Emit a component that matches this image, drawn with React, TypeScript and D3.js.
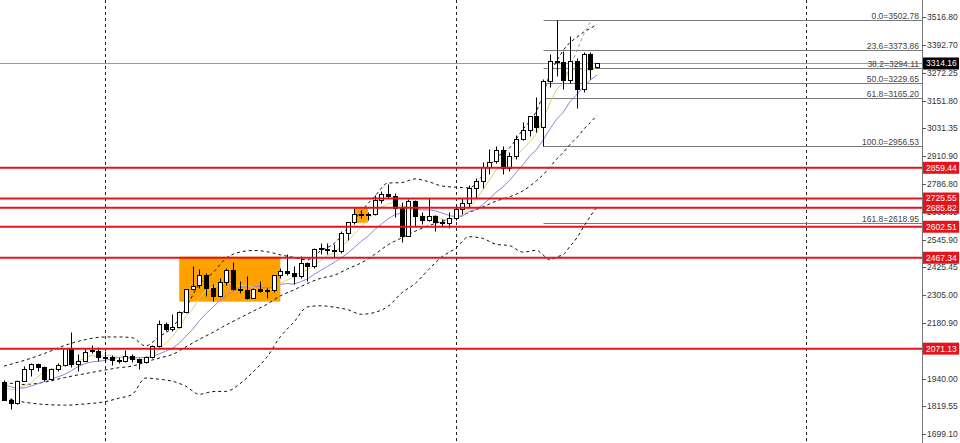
import { useEffect, useRef } from "react";
import * as d3 from "d3";

// weekly candles, oldest first
const opens = [
  1926, 1848, 1834, 1932, 1981, 2006, 1993, 1941, 1981, 2002, 2072, 2004, 2019, 2064, 2062, 2036, 2035, 2022, 2018, 2039,
  2024, 2013, 2035, 2083, 2179, 2155, 2165, 2233, 2329, 2350, 2392, 2337, 2301, 2360, 2415, 2333, 2327, 2293, 2333, 2321,
  2326, 2391, 2411, 2400, 2387, 2443, 2431, 2510, 2506, 2500, 2497, 2577, 2622, 2658, 2653, 2657, 2721, 2747, 2737, 2685,
  2563, 2716, 2650, 2633, 2648, 2622, 2621, 2640, 2680, 2705, 2770, 2800, 2861, 2890, 2936, 2858, 2910, 2984, 3023, 3084,
  3037, 3237, 3327, 3319, 3241, 3325, 3203, 3357, 3300,
];
const highs = [
  1936, 1856, 1936, 1997, 2009, 2010, 1995, 1988, 2008, 2075, 2145, 2047, 2070, 2088, 2078, 2062, 2043, 2036, 2065, 2048,
  2031, 2041, 2088, 2195, 2189, 2222, 2236, 2331, 2431, 2417, 2400, 2355, 2378, 2422, 2450, 2364, 2388, 2335, 2368, 2335,
  2393, 2424, 2483, 2433, 2477, 2450, 2509, 2531, 2530, 2529, 2586, 2625, 2685, 2670, 2668, 2740, 2758, 2790, 2750, 2710,
  2722, 2721, 2666, 2726, 2652, 2638, 2665, 2697, 2726, 2785, 2817, 2886, 2942, 2955, 2956, 2930, 3004, 3057, 3086, 3167,
  3245, 3357, 3502.78, 3367, 3435, 3340, 3366, 3366, 3318,
];
const lows = [
  1846, 1810, 1832, 1930, 1953, 1972, 1931, 1935, 1975, 1995, 1993, 1973, 2016, 2052, 2016, 2013, 2002, 2010, 2012, 2015,
  1984, 2010, 2030, 2080, 2146, 2146, 2162, 2228, 2325, 2336, 2300, 2277, 2298, 2350, 2325, 2315, 2287, 2290, 2316, 2293,
  2318, 2381, 2393, 2353, 2379, 2364, 2424, 2485, 2485, 2472, 2490, 2546, 2615, 2642, 2630, 2655, 2708, 2730, 2643, 2536,
  2563, 2605, 2613, 2627, 2583, 2605, 2597, 2634, 2656, 2690, 2730, 2772, 2833, 2880, 2832, 2845, 2900, 2982, 3000, 3015,
  2956.53, 3210, 3260, 3202, 3230, 3121, 3189, 3245, 3296,
];
const closes = [
  1848, 1834, 1932, 1981, 2006, 1993, 1941, 1981, 2002, 2072, 2004, 2019, 2056, 2060, 2035, 2033, 2021, 2018, 2038, 2024,
  2013, 2036, 2083, 2179, 2156, 2165, 2233, 2329, 2344, 2392, 2337, 2301, 2360, 2415, 2333, 2327, 2293, 2333, 2321, 2326,
  2391, 2411, 2400, 2387, 2443, 2431, 2507, 2506, 2500, 2497, 2577, 2622, 2658, 2653, 2657, 2721, 2747, 2737, 2685, 2563,
  2716, 2650, 2633, 2648, 2622, 2621, 2640, 2680, 2705, 2770, 2800, 2861, 2883, 2936, 2858, 2910, 2984, 3023, 3084, 3037,
  3237, 3327, 3319, 3241, 3325, 3203, 3357, 3289, 3314.16,
];

// indicator lines
const fastMa = [
  1905, 1892, 1895, 1910, 1920, 1949, 1971, 1980, 1985, 1998, 2000, 2016, 2031, 2042, 2035, 2041, 2041, 2033, 2029, 2027,
  2023, 2026, 2039, 2067, 2093, 2124, 2163, 2212, 2245, 2293, 2327, 2341, 2347, 2361, 2349, 2347, 2346, 2340, 2321, 2320,
  2333, 2356, 2370, 2383, 2406, 2414, 2434, 2455, 2477, 2488, 2517, 2540, 2571, 2601, 2633, 2662, 2687, 2703, 2709, 2691,
  2690, 2670, 2649, 2642, 2654, 2635, 2633, 2642, 2654, 2683, 2719, 2763, 2804, 2850, 2868, 2890, 2914, 2942, 2972, 3008,
  3073, 3142, 3201, 3232, 3290, 3283, 3289, 3283, 3298,
];
const slowMa = [
  1915, 1905, 1898, 1900, 1908, 1918, 1928, 1938, 1948, 1959, 1975, 1993, 2006, 2013, 2016, 2020, 2028, 2032, 2036, 2031,
  2032, 2033, 2036, 2048, 2060, 2073, 2095, 2126, 2156, 2193, 2225, 2252, 2280, 2303, 2321, 2337, 2343, 2344, 2341, 2335,
  2340, 2351, 2355, 2352, 2363, 2374, 2395, 2412, 2430, 2447, 2466, 2487, 2513, 2539, 2561, 2590, 2614, 2637, 2655, 2662,
  2676, 2679, 2676, 2676, 2672, 2662, 2652, 2646, 2648, 2669, 2677, 2698, 2723, 2752, 2775, 2804, 2839, 2873, 2911, 2938,
  2981, 3028, 3072, 3102, 3149, 3178, 3215, 3242, 3264,
];
const bandIndex = [
  0, 3, 6, 9, 12, 15, 17, 19, 21, 23, 25, 27, 29, 31, 33, 35, 37, 39, 41, 43, 45, 47, 49, 51, 53, 55, 57, 59, 61, 63,
  65, 67, 69, 71, 73, 75, 77, 79, 80, 81, 82, 83, 84, 85, 86, 87, 88,
];
const bandUpper = [
  1995, 2020, 2050, 2085, 2110, 2122, 2122, 2119, 2083, 2123, 2164, 2251, 2352, 2402, 2466, 2492, 2499, 2494, 2480, 2469,
  2458, 2498, 2530, 2597, 2670, 2735, 2793, 2795, 2811, 2799, 2780, 2775, 2772, 2825, 2902, 2946, 3027, 3107, 3179, 3268,
  3324, 3372, 3406, 3428, 3451, 3467, 3486,
];
const bandMiddle = [
  1925, 1915, 1925, 1945, 1962, 1978, 1988, 1995, 2013, 2030, 2046, 2079, 2112, 2142, 2175, 2205, 2235, 2264, 2301, 2327,
  2355, 2378, 2391, 2419, 2445, 2482, 2524, 2554, 2583, 2607, 2626, 2641, 2665, 2688, 2714, 2733, 2759, 2803, 2829, 2863,
  2897, 2927, 2962, 2991, 3027, 3057, 3088,
];
const bandLower = [
  1858, 1838, 1828, 1825, 1830, 1840, 1855, 1871, 1943, 1938, 1929, 1907, 1872, 1884, 1885, 1918, 1971, 2034, 2123, 2186,
  2253, 2258, 2252, 2241, 2221, 2229, 2256, 2314, 2355, 2416, 2472, 2508, 2559, 2552, 2526, 2520, 2492, 2500, 2479, 2458,
  2471, 2482, 2518, 2554, 2603, 2648, 2690,
];
const shortBandIndex = [83, 84, 85, 86, 87];
const shortBand = [3245, 3300, 3370, 3440, 3495];

const priceTicks = [
  3516.8, 3392.7, 3272.25, 3151.8, 3031.35, 2910.9, 2786.8, 2666.35, 2545.9, 2425.45, 2305.0, 2180.9, 2060.45, 1940.0,
  1819.55, 1699.1,
];
const levels = [2859.44, 2725.55, 2685.82, 2602.51, 2467.34, 2071.13];
const fibNames = ["0.0", "23.6", "38.2", "50.0", "61.8", "100.0", "161.8"];
const fibPrices = [3502.78, 3373.86, 3294.11, 3229.65, 3165.2, 2956.53, 2618.95];
const fibFrom = 80;
const zoneFrom = [26, 52];
const zoneTo = [41, 54];
const zoneTop = [2472, 2686];
const zoneBottom = [2276, 2620];
const yearLines = [15, 67, 119];
const lastPrice = 3314.16;

export default function App() {
  const width = 960;
  const height = 443;
  const axisX = 922;
  const ref = useRef(null);

  useEffect(() => {
    ref.current.innerHTML = "";
    const svg = d3.select(ref.current);
    const font = "'Liberation Sans', Arial, sans-serif";

    const x = d3.scaleLinear().domain([0, 119]).range([4, 806]);
    const y = d3.scaleLinear().domain([1699.1, 3516.8]).range([434, 17]);
    const px = (i) => Math.round(x(i)) + 0.5;
    const py = (v) => Math.round(y(v)) + 0.5;

    svg.append("rect").attr("width", width).attr("height", height).attr("fill", "#fff");

    // orange zones
    svg
      .selectAll("rect.zone")
      .data(zoneFrom)
      .join("rect")
      .attr("class", "zone")
      .attr("x", (d) => x(d))
      .attr("width", (d, i) => x(zoneTo[i]) - x(d))
      .attr("y", (d, i) => y(zoneTop[i]))
      .attr("height", (d, i) => y(zoneBottom[i]) - y(zoneTop[i]))
      .attr("fill", "#ffa200");

    // yearly grid
    svg
      .selectAll("line.grid")
      .data(yearLines)
      .join("line")
      .attr("x1", (d) => px(d))
      .attr("x2", (d) => px(d))
      .attr("y1", 0)
      .attr("y2", height)
      .attr("stroke", "#222")
      .attr("stroke-dasharray", "3,3");

    // current price line
    svg
      .append("line")
      .attr("x1", 0)
      .attr("x2", axisX)
      .attr("y1", py(lastPrice))
      .attr("y2", py(lastPrice))
      .attr("stroke", "#9a9a9a");

    // fibonacci levels
    svg
      .selectAll("line.fib")
      .data(fibPrices)
      .join("line")
      .attr("x1", px(fibFrom))
      .attr("x2", axisX)
      .attr("y1", (d) => py(d))
      .attr("y2", (d) => py(d))
      .attr("stroke", "#7a7a7a");

    // bollinger bands
    const band = d3
      .line()
      .x((d) => x(d[0]))
      .y((d) => y(d[1]))
      .curve(d3.curveMonotoneX);
    [bandUpper, bandMiddle, bandLower].forEach((vals) => {
      svg
        .append("path")
        .attr("d", band(bandIndex.map((d, i) => [d, vals[i]])))
        .attr("fill", "none")
        .attr("stroke", "#111")
        .attr("stroke-dasharray", "3,3");
    });
    svg
      .append("path")
      .attr("d", band(shortBandIndex.map((d, i) => [d, shortBand[i]])))
      .attr("fill", "none")
      .attr("stroke", "#c98a8a")
      .attr("stroke-dasharray", "3,3");

    // moving averages
    const ma = d3
      .line()
      .x((d, i) => x(i))
      .y((d) => y(d));
    svg.append("path").attr("d", ma(slowMa)).attr("fill", "none").attr("stroke", "#9a80d8");
    svg.append("path").attr("d", ma(fastMa)).attr("fill", "none").attr("stroke", "#e3cf6e");

    // candles
    const idx = d3.range(closes.length);
    svg
      .selectAll("line.wick")
      .data(idx)
      .join("line")
      .attr("x1", (i) => px(i))
      .attr("x2", (i) => px(i))
      .attr("y1", (i) => py(highs[i]))
      .attr("y2", (i) => py(lows[i]))
      .attr("stroke", "#000");
    svg
      .selectAll("rect.body")
      .data(idx)
      .join("rect")
      .attr("x", (i) => px(i) - 2)
      .attr("width", 4)
      .attr("y", (i) => py(Math.max(opens[i], closes[i])))
      .attr("height", (i) => Math.max(1, py(Math.min(opens[i], closes[i])) - py(Math.max(opens[i], closes[i]))))
      .attr("fill", (i) => (closes[i] >= opens[i] ? "#fff" : "#000"))
      .attr("stroke", "#000");

    // horizontal levels
    svg
      .selectAll("line.level")
      .data(levels)
      .join("line")
      .attr("x1", 0)
      .attr("x2", axisX)
      .attr("y1", (d) => y(d))
      .attr("y2", (d) => y(d))
      .attr("stroke", "#e3141c")
      .attr("stroke-width", 2);

    // fib labels
    svg
      .selectAll("text.fib")
      .data(fibPrices)
      .join("text")
      .attr("x", axisX - 3)
      .attr("y", (d) => py(d) - 2)
      .attr("text-anchor", "end")
      .attr("font-family", font)
      .attr("font-size", 8.5)
      .attr("fill", "#444")
      .text((d, i) => `${fibNames[i]}=${d.toFixed(2)}`);

    // right axis
    svg
      .append("line")
      .attr("x1", axisX + 0.5)
      .attr("x2", axisX + 0.5)
      .attr("y1", 0)
      .attr("y2", height)
      .attr("stroke", "#777");
    const axis = svg.append("g");
    axis
      .selectAll("line")
      .data(priceTicks)
      .join("line")
      .attr("x1", axisX)
      .attr("x2", axisX + 4)
      .attr("y1", (d) => py(d))
      .attr("y2", (d) => py(d))
      .attr("stroke", "#555");
    axis
      .selectAll("text")
      .data(priceTicks)
      .join("text")
      .attr("x", axisX + 5)
      .attr("y", (d) => y(d))
      .attr("dy", "0.35em")
      .attr("font-family", font)
      .attr("font-size", 8.5)
      .attr("fill", "#333")
      .text((d) => d.toFixed(2));

    // price tags
    const tags = levels.map((v) => ({ v, fill: "#e3141c" })).concat([{ v: lastPrice, fill: "#000" }]);
    const tag = svg.selectAll("g.tag").data(tags).join("g");
    tag
      .append("rect")
      .attr("x", axisX + 1)
      .attr("y", (d) => y(d.v) - 6)
      .attr("width", 36)
      .attr("height", 12)
      .attr("fill", (d) => d.fill);
    tag
      .append("text")
      .attr("x", axisX + 4)
      .attr("y", (d) => y(d.v))
      .attr("dy", "0.35em")
      .attr("font-family", font)
      .attr("font-size", 8.5)
      .attr("fill", "#fff")
      .text((d) => d.v.toFixed(2));
  }, []);

  return (
    <svg
      ref={ref}
      width={width}
      height={height}
      style={{ position: "absolute", left: 0, top: 0, display: "block" }}
    />
  );
}
